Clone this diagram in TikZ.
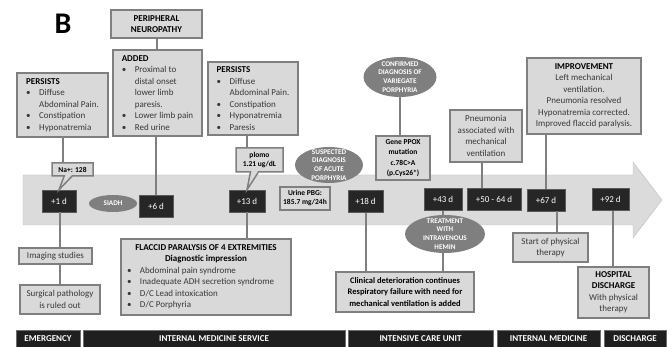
\documentclass[tikz,border=0pt]{standalone}
\usepackage{fontspec}
\setmainfont{Carlito}
\usepackage{tikz}
\usetikzlibrary{shapes.geometric,shapes.callouts}

\newcommand{\blt}{\makebox[13pt][l]{\textbullet}}
\newcommand{\bltx}{\hspace*{13pt}}
\newcommand{\hd}[1]{\textcolor{black}{\textbf{#1}}}

\begin{document}
\begin{tikzpicture}[x=1pt,y=1pt,yscale=-1,xscale=1,
  gbox/.style={draw={rgb, 255:red, 127; green, 127; blue, 127 }, line width=1.5, fill={rgb, 255:red, 217; green, 217; blue, 217 }, text={rgb, 255:red, 56; green, 56; blue, 56 }, font=\fontsize{9}{11.5}\selectfont, inner sep=2pt},
  dbox/.style={fill={rgb, 255:red, 38; green, 38; blue, 38 }, draw={rgb, 255:red, 89; green, 89; blue, 89 }, text=white, font=\fontsize{9}{11}\selectfont, minimum height=22pt, inner sep=0pt},
  oval/.style={ellipse, fill={rgb, 255:red, 127; green, 127; blue, 127 }, text=white, font=\fontsize{7.2}{8.8}\selectfont\bfseries, align=center, inner xsep=0pt, inner ysep=-4pt},
  note/.style={gbox, rectangle callout, callout pointer width=8pt, font=\fontsize{7.5}{9.5}\selectfont\bfseries, text=black, align=center, inner sep=1pt},
  link/.style={draw={rgb, 255:red, 127; green, 127; blue, 127 }, line width=2},
  stage/.style={fill={rgb, 255:red, 31; green, 31; blue, 31 }, draw={rgb, 255:red, 110; green, 110; blue, 110 }, line width=0.8, text=white, font=\fontsize{9}{10}\selectfont\bfseries, minimum height=17pt, inner sep=0pt}]
\path[use as bounding box] (0,0) rectangle (672,347);

%Shape: Right Arrow
\draw [draw={rgb, 255:red, 191; green, 191; blue, 191 }, fill={rgb, 255:red, 219; green, 219; blue, 219 }] (23,175) -- (633,175) -- (633,162) -- (662,200) -- (633,238) -- (633,225) -- (23,225) -- cycle;

% Text Node
\node[font=\fontsize{30}{30}\selectfont\bfseries] (lbl) at (63,24) {B};

%Shape: Rectangle (days)
\node[dbox, minimum width=34pt] (d1) at (59,201) {+1 d};
\node[dbox, minimum width=34pt] (d6) at (156,206) {+6 d};
\node[dbox, minimum width=36pt] (d13) at (247,201) {+13 d};
\node[dbox, minimum width=35pt] (d18) at (365.5,201.5) {+18 d};
\node[dbox, minimum width=38pt] (d43) at (443,199.5) {+43 d};
\node[dbox, minimum width=54pt] (d5064) at (494,199.5) {+50 - 64 d};
\node[dbox, minimum width=38pt] (d67) at (546,200) {+67 d};
\node[dbox, minimum width=37pt] (d92) at (610.5,199.5) {+92 d};

%Shape: Rectangle (above the arrow)
\node[gbox, align=center, minimum width=91pt, minimum height=28pt] (neuro) at (156.5,24) {\hd{PERIPHERAL}\\\hd{NEUROPATHY}};
\node[gbox, align=left, minimum width=89pt, minimum height=86pt] (added) at (157.5,93) {\hd{ADDED}\\\blt Proximal to\\\bltx distal onset\\\bltx lower limb\\\bltx paresis.\\\blt Lower limb pain\\\blt Red urine};
\node[gbox, align=left, minimum width=91pt, minimum height=64pt] (pers1) at (62.5,105) {\hd{PERSISTS}\\\blt Diffuse\\\bltx Abdominal Pain.\\\blt Constipation\\\blt Hyponatremia};
\node[gbox, align=left, minimum width=90pt, minimum height=73pt] (pers2) at (253,98.5) {\hd{PERSISTS}\\\blt Diffuse\\\bltx Abdominal Pain.\\\blt Constipation\\\blt Hyponatremia\\\blt Paresis};
\node[gbox, align=center, minimum width=72pt, minimum height=52pt] (pneu) at (486,136) {Pneumonia\\associated with\\mechanical\\ventilation};
\node[gbox, align=center, minimum width=114pt, minimum height=76pt] (impr) at (584,96) {\hd{IMPROVEMENT}\\Left mechanical\\ventilation.\\Pneumonia resolved\\Hyponatremia corrected.\\Improved flaccid paralysis.};
\node[gbox, align=center, font=\fontsize{7.5}{10.5}\selectfont\bfseries, text=black, minimum width=54pt, minimum height=44pt, inner sep=1pt] (gene) at (403,158) {Gene PPOX\\mutation\\c.78C>A\\(p.Cys26*)};
\node[gbox, align=center, font=\fontsize{7.5}{9}\selectfont\bfseries, text=black, minimum width=50pt, minimum height=23pt, inner sep=1pt] (pbg) at (305,198.5) {Urine PBG:\\185.7 mg/24h};

%Shape: Callout
\node[note, minimum width=41pt, minimum height=13pt, callout absolute pointer={(d1.north)}] (na) at (72.5,169.5) {Na+: 128};
\node[note, minimum width=47pt, minimum height=24pt, callout absolute pointer={(d13.north)}] (plomo) at (259.5,160) {plomo\\1.21 ug/dL};

%Shape: Ellipse
\node[oval, minimum width=48pt, minimum height=17pt] (siadh) at (113,203.5) {SIADH};
\node[oval, minimum width=68pt, minimum height=36pt] (susp) at (329,165) {SUSPECTED\\DIAGNOSIS\\OF ACUTE\\PORPHYRIA};
\node[oval, minimum width=73pt, minimum height=40pt] (conf) at (400,77) {CONFIRMED\\DIAGNOSIS OF\\VARIEGATE\\PORPHYRIA};
\node[oval, minimum width=80pt, minimum height=38pt] (treat) at (445,234) {TREATMENT\\WITH\\INTRAVENOUS\\HEMIN};

%Shape: Rectangle (below the arrow)
\node[gbox, minimum width=73pt, minimum height=16pt] (img) at (55.5,256) {Imaging studies};
\node[gbox, align=center, minimum width=80pt, minimum height=29pt] (surg) at (60,299.5) {Surgical pathology\\is ruled out};
\node[gbox, align=left, minimum height=76pt, inner xsep=6pt] (flac) at (206,277) {\makebox[158pt]{\hd{FLACCID PARALYSIS OF 4 EXTREMITIES}}\\\makebox[158pt]{\hd{Diagnostic impression}}\\\blt Abdominal pain syndrome\\\blt Inadequate ADH secretion syndrome\\\blt D/C Lead intoxication\\\blt D/C Porphyria};
\node[gbox, align=center, text=black, font=\fontsize{8.5}{11.5}\selectfont\bfseries, minimum width=138pt, minimum height=40pt] (clin) at (405,292) {Clinical deterioration continues\\Respiratory failure with need for\\mechanical ventilation is added};
\node[gbox, align=center, minimum width=75pt, minimum height=29pt] (phys) at (550.5,247.5) {Start of physical\\therapy};
\node[gbox, align=center, minimum width=71pt, minimum height=51pt] (disch) at (613.5,292.5) {\hd{HOSPITAL}\\\hd{DISCHARGE}\\With physical\\therapy};

%Shape: Rectangle (services)
\node[stage, minimum width=64pt] (emer) at (48,338.5) {EMERGENCY};
\node[stage, minimum width=262pt] (ims) at (214,338.5) {INTERNAL MEDICINE SERVICE};
\node[stage, minimum width=145pt] (icu) at (420.5,338.5) {INTENSIVE CARE UNIT};
\node[stage, minimum width=103pt] (im) at (548.5,338.5) {INTERNAL MEDICINE};
\node[stage, minimum width=62pt] (dis) at (635,338.5) {DISCHARGE};

%Straight Lines
\draw[link] (neuro.south) -- (neuro.south |- added.north);
\draw[link] (d6.north |- added.south) -- (d6.north);
\draw[link] (pers1.south) -- (pers1.south |- na.north);
\draw[link] (d13.north |- pers2.south) -- (d13.north |- plomo.north);
\draw[link] (conf.south) -- (conf.south |- gene.north);
\draw[link] ([xshift=-4pt]pneu.south) -- ([xshift=-4pt]pneu.south |- d5064.north);
\draw[link] (d67.north |- impr.south) -- (d67.north);
\draw[link] ([xshift=1pt]d1.south) -- ([xshift=1pt]d1.south |- img.north);
\draw[link] ([xshift=1pt]d1.south |- img.south) -- ([xshift=1pt]d1.south |- surg.north);
\draw[link] (d13.south) -- (d13.south |- flac.north);
\draw[link] (d18.south) -- (d18.south |- clin.north);
\draw[link] (d43.south) -- (d43.south |- treat.north);
\draw[link] (d43.south |- treat.south) -- (d43.south |- clin.north);
\draw[link] ([xshift=11pt]d67.south) -- ([xshift=11pt]d67.south |- phys.north);
\draw[link] ([xshift=2pt]d92.south) -- ([xshift=2pt]d92.south |- disch.north);

\end{tikzpicture}
\end{document}
